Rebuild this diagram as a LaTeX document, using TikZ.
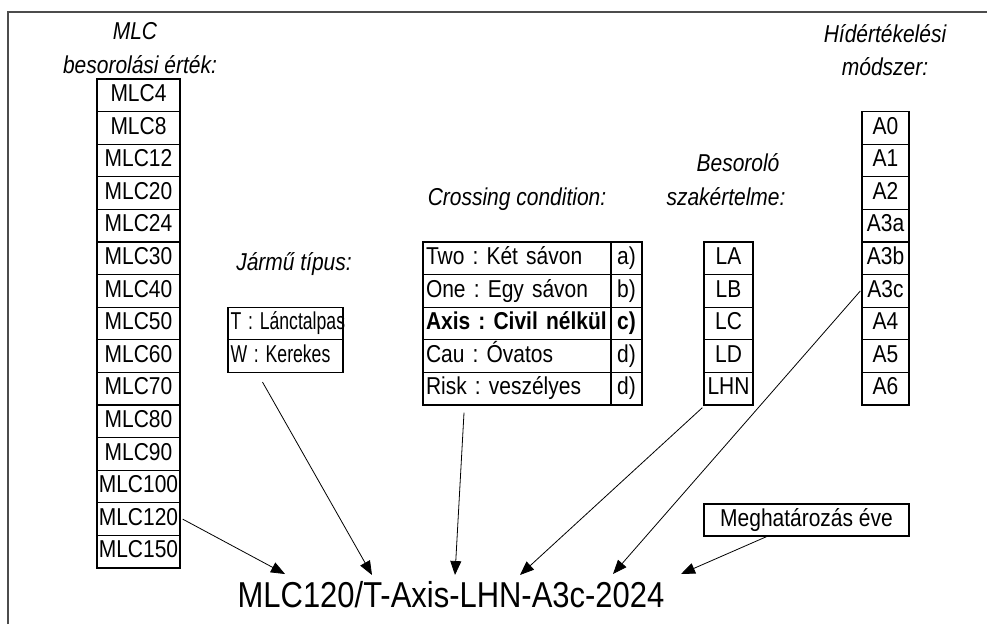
\documentclass[tikz,border=0pt]{standalone}
\usepackage{fontspec}
\setmainfont{Liberation Sans}[FakeStretch=0.86]
\usetikzlibrary{arrows.meta}
\frenchspacing
\begin{document}
\begin{tikzpicture}[x=1pt,y=-1pt,
  cell/.style={draw,line width=1.3pt,inner sep=0pt,minimum height=32.6pt,
    font=\fontsize{24.4}{28}\selectfont,text height=17.5pt,text depth=5pt},
  lcell/.style={cell,inner xsep=3pt,align=left},
  lbl/.style={anchor=base,inner sep=0pt,font=\fontsize{24.4}{28}\selectfont\itshape},
  conn/.style={line width=0.8pt,-{Triangle[length=14pt,width=11pt]}}]
\useasboundingbox (0,0) rectangle (987,624);
% frame
\draw[black!70,line width=2pt] (8,624) -- (8,12) -- (987,12);
% titles
\node[lbl] (tmlc1) at (135,39) {MLC};
\node[lbl] (tmlc2) at (140,73) {besorolási érték:};
\node[lbl] (tjt) at (294,270) {Jármű típus:};
\node[lbl] (tcc) at (517,205) {Crossing condition:};
\node[lbl] (tbs1) at (738,171) {Besoroló};
\node[lbl] (tbs2) at (726,205) {szakértelme:};
\node[lbl] (thm1) at (885,42) {Hídértékelési};
\node[lbl] (thm2) at (885,75) {módszer:};
% MLC column
\foreach \v [count=\i from 0] in {4,8,12,20,24,30,40,50,60,70,80,90,100,120,150}
  \node[cell,minimum width=83pt] (mlc\v) at (138.5,{79+32.6*(\i+0.5)}) {MLC\v};
% A column
\foreach \v [count=\i from 1] in {A0,A1,A2,A3a,A3b,A3c,A4,A5,A6}
  \node[cell,minimum width=47pt] (\v) at (885.5,{79+32.6*(\i+0.5)}) {\v};
% L column
\foreach \v [count=\i from 5] in {LA,LB,LC,LD,LHN}
  \node[cell,minimum width=49pt] (\v) at (728.5,{79+32.6*(\i+0.5)}) {\v};
% crossing table
\foreach \t/\l/\n [count=\i from 5] in {Two : Két sávon/a)/two,One : Egy sávon/b)/one,
    \textbf{Axis : Civil nélkül}/\textbf{c)}/axis,Cau : Óvatos/d)/cau,Risk : veszélyes/d)/risk}{
  \node[lcell,text width=182pt] (\n) at (517,{79+32.6*(\i+0.5)}) {\t};
  \node[cell,minimum width=31pt] (\n l) at (626.5,{79+32.6*(\i+0.5)}) {\l};
}
% vehicle type
\node[lcell,text width=110pt,inner xsep=2.5pt] (tt) at (285.5,{79+32.6*7.5}) {\scalebox{0.84}[1]{T : Lánctalpas}};
\node[lcell,text width=110pt,inner xsep=2.5pt] (ww) at (285.5,{79+32.6*8.5}) {\scalebox{0.84}[1]{W : Kerekes}};
% year box
\node[cell,minimum width=205pt,minimum height=32pt] (year) at (806.5,520) {Meghatározás éve};
% code
\node[anchor=base,inner sep=0pt,font=\fontsize{36}{42}\selectfont] (code) at (451,607) {MLC120/T-Axis-LHN-A3c-2024};
% arrow tips
\coordinate (t1) at (285,574);
\coordinate (t2) at (372,575);
\coordinate (t3) at (455,575);
\coordinate (t4) at (520,575);
\coordinate (t5) at (613,574);
\coordinate (t6) at (681,574);
% connectors
\draw[conn] ([xshift=2pt]mlc120.east) -- (t1);
\draw[conn] ([xshift=-23pt,yshift=-9pt]ww.south) -- (t2);
\draw[conn] ([xshift=-53pt,yshift=-7pt]risk.south) -- (t3);
\draw[conn] ([xshift=-1pt,yshift=-2pt]LHN.south west) -- (t4);
\draw[conn] ([xshift=-1pt]A3c.west) -- (t5);
\draw[conn] ([xshift=-40pt]year.south) -- (t6);
\end{tikzpicture}
\end{document}
